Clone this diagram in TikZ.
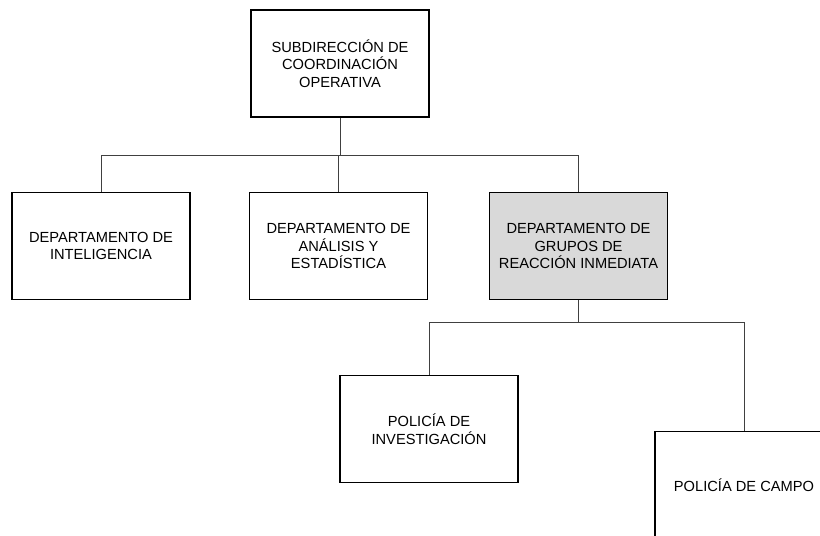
\documentclass[tikz,border=0pt]{standalone}
\usepackage{fontspec}
\setmainfont{Liberation Sans}
\usetikzlibrary{positioning}

\begin{document}
\begin{tikzpicture}[x=0.75pt,y=-0.75pt,
  unidad/.style={draw,line width=1.1pt,minimum width=133.5pt,minimum height=80pt,
    inner sep=2pt,align=center,font=\fontsize{11}{13.2}\selectfont},
  linea/.style={line width=0.75pt,color=black!75}]

\clip (0,0) rectangle (820,535);

\node[unidad] (sub) at (340,63.5) {SUBDIRECCIÓN DE\\COORDINACIÓN\\OPERATIVA};

\node[unidad] (intel) at (101,246) {DEPARTAMENTO DE\\INTELIGENCIA};
\node[unidad] (analisis) at (338.5,246) {DEPARTAMENTO DE\\ANÁLISIS Y\\ESTADÍSTICA};
\node[unidad,fill=black!15] (grupos) at (578.5,246) {DEPARTAMENTO DE\\GRUPOS DE\\REACCIÓN INMEDIATA};

\node[unidad] (investigacion) at (429,429) {POLICÍA DE\\INVESTIGACIÓN};
\node[unidad] (campo) at (744,485) {POLICÍA DE CAMPO};

% lineas de mando
\coordinate (bus1) at (340,155);
\coordinate (bus2) at (578.5,322);

\draw[linea] (sub.south) -- (bus1);
\draw[linea] (bus1) -| (intel.north);
\draw[linea] (bus1) -| (analisis.north);
\draw[linea] (bus1) -| (grupos.north);

\draw[linea] (grupos.south) -- (bus2);
\draw[linea] (bus2) -| (investigacion.north);
\draw[linea] (bus2) -| (campo.north);

\end{tikzpicture}
\end{document}
